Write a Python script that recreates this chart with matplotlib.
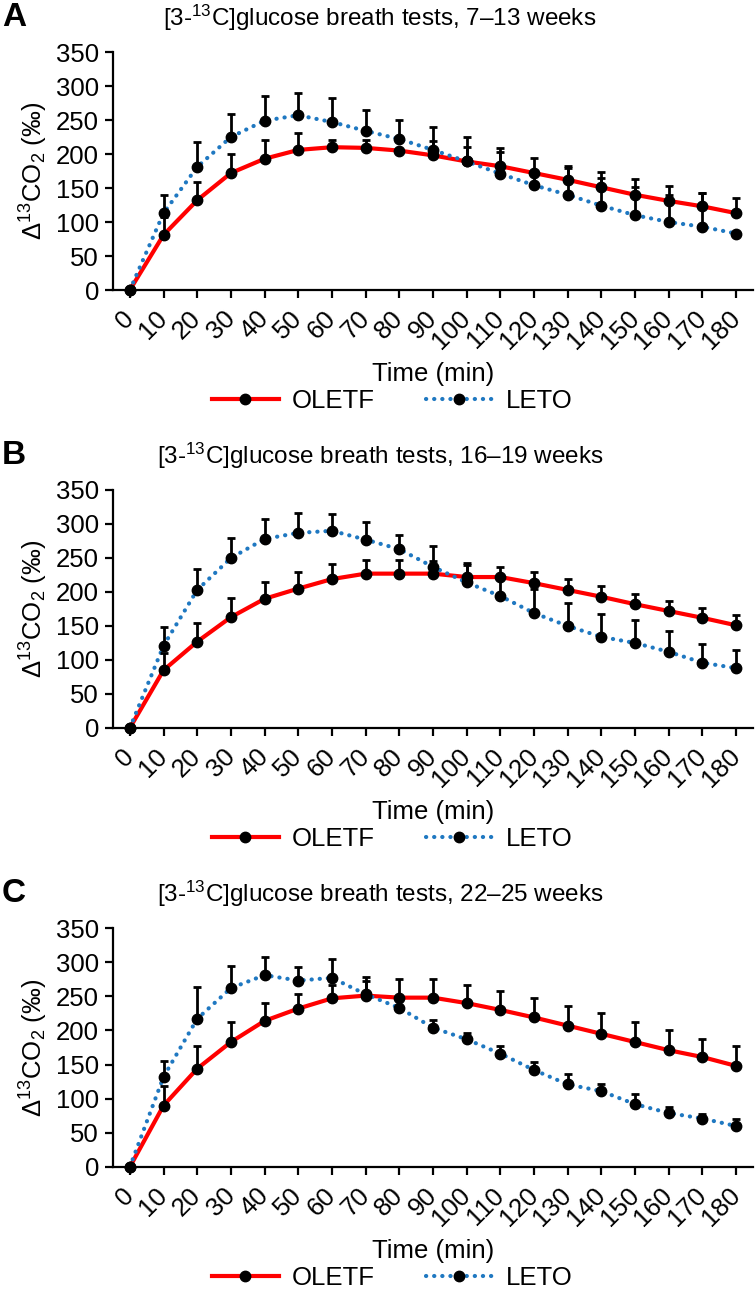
import numpy as np
import matplotlib
matplotlib.use("Agg")
import matplotlib.pyplot as plt
from matplotlib.lines import Line2D

plt.rcParams['font.family'] = ['Liberation Sans', 'DejaVu Sans']
plt.rcParams['mathtext.fontset'] = 'custom'
plt.rcParams['mathtext.rm'] = 'Liberation Sans'
plt.rcParams['mathtext.it'] = 'Liberation Sans:italic'

time_min = list(range(0, 190, 10))

# panel A, 7-13 weeks
oletf_a = [0, 81, 132, 172, 193, 206, 210, 209, 205, 198, 189, 182, 172, 162, 151, 140, 131, 123, 113]
oletf_a_err = [0, 27, 27, 28, 27, 25, 10, 12, 0, 21, 22, 27, 22, 20, 22, 23, 22, 20, 22]
leto_a = [0, 113, 181, 225, 249, 257, 247, 234, 222, 206, 189, 171, 154, 140, 124, 110, 100, 93, 83]
leto_a_err = [0, 27, 36, 34, 37, 33, 35, 31, 28, 34, 36, 32, 20, 40, 40, 41, 40, 50, 0]

# panel B, 16-19 weeks
oletf_b = [0, 85, 127, 163, 190, 205, 219, 227, 227, 227, 222, 222, 213, 203, 193, 182, 172, 162, 151]
oletf_b_err = [0, 25, 28, 28, 24, 24, 22, 20, 20, 18, 21, 15, 16, 16, 16, 15, 15, 14, 15]
leto_b = [0, 121, 203, 250, 278, 287, 290, 277, 263, 237, 214, 194, 169, 150, 134, 125, 112, 96, 88]
leto_b_err = [0, 28, 31, 30, 30, 29, 24, 26, 21, 31, 26, 26, 35, 34, 34, 34, 31, 28, 26]

# panel C, 22-25 weeks
oletf_c = [0, 90, 144, 183, 214, 232, 247, 251, 248, 248, 240, 230, 219, 207, 195, 183, 171, 161, 148]
oletf_c_err = [0, 28, 33, 30, 26, 22, 20, 27, 27, 28, 27, 28, 29, 29, 31, 30, 30, 26, 29]
leto_c = [0, 132, 217, 262, 281, 273, 277, 253, 233, 204, 187, 166, 142, 121, 111, 92, 79, 71, 60]
leto_c_err = [0, 23, 46, 32, 26, 20, 27, 20, 0, 12, 9, 11, 12, 15, 11, 15, 9, 6, 10]

titles = ['[3-$^{\\mathregular{13}}$C]glucose breath tests, 7\u201313 weeks',
          '[3-$^{\\mathregular{13}}$C]glucose breath tests, 16\u201319 weeks',
          '[3-$^{\\mathregular{13}}$C]glucose breath tests, 22\u201325 weeks']
letters = ['A', 'B', 'C']
panels = [(oletf_a, oletf_a_err, leto_a, leto_a_err),
          (oletf_b, oletf_b_err, leto_b, leto_b_err),
          (oletf_c, oletf_c_err, leto_c, leto_c_err)]

W, H = 756, 1292
fig = plt.figure(figsize=(W / 100, H / 100), dpi=100)

red = '#FF0000'
blue = '#1F78C1'
dots = (0, (0.05, 1.9))
fs = 18.5
# pixel boxes of axes: (left, top, right, bottom)
boxes = [(113, 52, 753, 290), (113, 490, 753, 728), (113, 928, 753, 1167)]

for i, (box, (o, oe, l, le)) in enumerate(zip(boxes, panels)):
    x0, y0, x1, y1 = box
    ax = fig.add_axes([x0 / W, 1 - y1 / H, (x1 - x0) / W, (y1 - y0) / H])

    ax.plot(time_min, o, color=red, lw=3, zorder=2)
    ax.plot(time_min, l, color=blue, lw=3, ls=dots, dash_capstyle='round', zorder=2)
    for vals, errs in [(o, oe), (l, le)]:
        ax.errorbar(time_min, vals, yerr=[np.zeros(len(errs)), errs], fmt='none',
                    ecolor='black', elinewidth=2, capsize=2.8, capthick=2, zorder=3)
        ax.plot(time_min, vals, 'o', color='black', ms=7.5, zorder=4, clip_on=False)

    ax.set_xlim(-5, 185)
    ax.set_ylim(0, 350)
    ax.set_xticks(time_min)
    ax.set_xticklabels([str(t) for t in time_min], rotation=45, ha='right', va='center',
                       rotation_mode='anchor')
    ax.set_yticks(range(0, 351, 50))
    ax.tick_params(axis='both', direction='out', length=6, width=1.6, labelsize=fs)
    ax.tick_params(axis='x', pad=12)
    ax.tick_params(axis='y', pad=4)
    for s in ['top', 'right']:
        ax.spines[s].set_visible(False)
    for s in ['left', 'bottom']:
        ax.spines[s].set_linewidth(1.6)

    ax.set_ylabel('\u0394$^{\\mathregular{13}}$CO$_{\\mathregular{2}}$ (\u2030)', fontsize=fs, labelpad=4)
    ax.set_xlabel('Time (min)', fontsize=fs, labelpad=6)
    fig.text(380 / W, 1 - (y0 - 34) / H, titles[i], fontsize=17.5, ha='center', va='center')
    fig.text(2 / W, 1 - (y0 - 35) / H, letters[i], fontsize=24, fontweight='bold', ha='left', va='center')

    handles = [Line2D([0], [0], color=red, lw=3, marker='o', mfc='black', mec='black', ms=7.5),
               Line2D([0], [0], color=blue, lw=3, ls=dots, dash_capstyle='round',
                      marker='o', mfc='black', mec='black', ms=7.5)]
    fig.legend(handles, ['OLETF', 'LETO'], loc='center', bbox_to_anchor=(392 / W, 1 - (y1 + 111) / H),
               ncol=2, frameon=False, fontsize=fs, handlelength=2.6, columnspacing=2.0,
               handletextpad=0.5, numpoints=1, borderpad=0.2)

fig.savefig('out.png', dpi=100, facecolor='white')
